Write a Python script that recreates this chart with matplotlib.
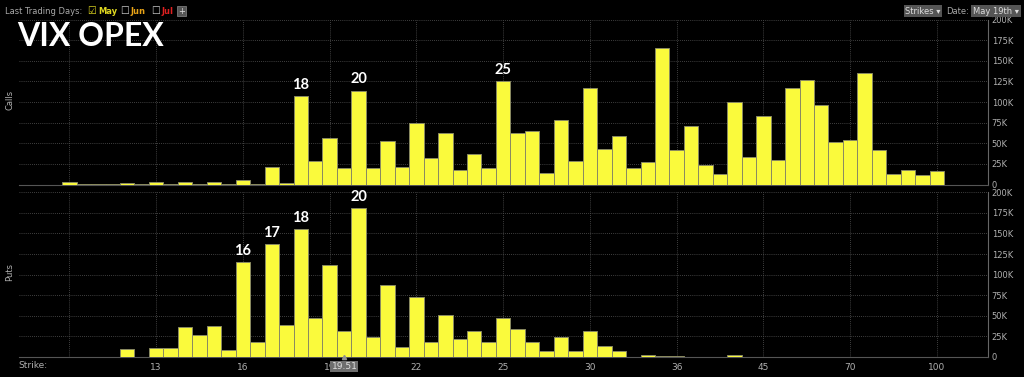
import numpy as np
import matplotlib
matplotlib.use("Agg")
import matplotlib.pyplot as plt

# open interest per strike slot (thousands), left to right
calls = [0, 0, 0, 3.4, 0.4, 0.4, 0.4, 1.8, 0.4, 3.4, 0.4, 2.6, 1.0, 2.6, 0.4, 5.0,
         0.4, 21.6, 1.8, 107.8, 28, 56, 20.4, 113.9, 19.6, 53, 20.8, 74.6, 32, 62,
         17.6, 37.4, 19.6, 126, 62.9, 64.5, 14, 78.3, 28, 117, 42.7, 58.5, 19.6, 27.7,
         165.6, 41.9, 70.6, 23.7, 12.3, 99.7, 33, 82.7, 30.1, 116.7, 126.8, 96, 51.2,
         53.6, 135, 41.5, 12.7, 18, 11.5, 16]
puts = [0, 0, 0, 0.3, 0.3, 0.3, 0, 9.7, 0, 11.3, 11.3, 36.8, 27, 37.2, 8.1, 115.7,
        18.2, 136.7, 38.8, 155, 47.3, 111.6, 32, 180.4, 23.9, 87.4, 12.5, 73.2, 18.6,
        50.6, 21.4, 32, 17.8, 46.9, 34, 18.6, 6.9, 24.7, 6.9, 32, 13.3, 6.9, 0.3, 2.4,
        1.2, 1.2, 0, 0, 0.3, 2.8, 0, 0, 0, 0, 0, 0, 0, 0, 0, 0, 0, 0, 0, 0]

strike_ticks = [3, 9, 15, 21, 27, 33, 39, 45, 51, 57, 63]
strike_labels = ['', '13', '16', '19', '22', '25', '30', '36', '45', '70', '100']

call_marks = [19, 23, 33]
call_mark_text = ['18', '20', '25']
put_marks = [15, 17, 19, 23]
put_mark_text = ['16', '17', '18', '20']

y_ticks = [0, 25, 50, 75, 100, 125, 150, 175, 200]
y_labels = ['0', '25K', '50K', '75K', '100K', '125K', '150K', '175K', '200K']

spot = 19.51
spot_pos = 22.02

W, H = 1024, 377
yellow = '#fafa3c'
grey = '#b0b0b0'

fig = plt.figure(figsize=(W / 100, H / 100), dpi=100, facecolor='black')

def fx(px):
    return px / W

def fy(py):
    return 1 - py / H

left, right = 18.8, 987.5
ax1 = fig.add_axes([fx(left), fy(184.5), fx(right - left), (184.5 - 19.7) / H])
ax2 = fig.add_axes([fx(left), fy(357), fx(right - left), (357 - 192.3) / H])

for ax, vals, marks, texts in [(ax1, calls, call_marks, call_mark_text),
                               (ax2, puts, put_marks, put_mark_text)]:
    ax.set_facecolor('black')
    x = np.arange(len(vals))
    ax.bar(x, vals, width=1.0, color=yellow, edgecolor='#8a8a62', linewidth=0.7, zorder=3)
    ax.set_xlim(-0.5, 66.5)
    ax.set_ylim(0, 200)
    ax.set_xticks(strike_ticks)
    ax.set_yticks(y_ticks)
    ax.set_yticklabels(y_labels)
    ax.yaxis.tick_right()
    ax.tick_params(axis='y', length=0, pad=3, labelsize=6, labelcolor=grey)
    ax.tick_params(axis='x', length=0, pad=4, labelsize=6.5, labelcolor=grey)
    ax.grid(True, color='#555555', linestyle=(0, (1, 1.5)), linewidth=0.6, zorder=0)
    for s in ['left', 'top']:
        ax.spines[s].set_visible(False)
    ax.spines['right'].set_color('#666666')
    ax.spines['bottom'].set_color('#555555')
    for m, t in zip(marks, texts):
        ax.annotate(t, (m, vals[m]), xytext=(0, 3), textcoords='offset points',
                    ha='center', va='bottom', color='white', fontsize=10.5,
                    fontweight='bold', family='Lato', zorder=5)

ax1.set_xticklabels([])
ax2.set_xticklabels(strike_labels)

# spot price marker (sits over the "19" label, as in the source screen)
ax2.plot([spot_pos], [0], marker='^', color='#909090', markersize=3, clip_on=False, zorder=6)
ax2.annotate(f'{spot:.2f}', (spot_pos, 0), xytext=(0, -7), textcoords='offset points',
             ha='center', va='center', color='#e0e0e0', fontsize=6.5,
             bbox=dict(facecolor='#6e6e6e', edgecolor='none', pad=0.8), zorder=7,
             annotation_clip=False)

fig.text(fx(10), fy(100), 'Calls', rotation=90, ha='center', va='center', color=grey, fontsize=6)
fig.text(fx(10), fy(272), 'Puts', rotation=90, ha='center', va='center', color=grey, fontsize=6)
fig.text(fx(18), fy(366), 'Strike:', ha='left', va='center', color=grey, fontsize=6.5)

fig.text(fx(17), fy(37), 'VIX OPEX', ha='left', va='center', color='white',
         fontsize=23, fontweight='bold', family='Lato')

# header controls
fig.text(fx(5), fy(11), 'Last Trading Days:', ha='left', va='center', color='#a8a8a8', fontsize=6)
fig.text(fx(87), fy(11), '\u2611', ha='left', va='center', color='#e0d820', fontsize=7)
fig.text(fx(98), fy(11), 'May', ha='left', va='center', color='#e0d820', fontsize=6, fontweight='bold')
fig.text(fx(120), fy(11), '\u2610', ha='left', va='center', color='#d0d0d0', fontsize=7)
fig.text(fx(130), fy(11), 'Jun', ha='left', va='center', color='#e8a317', fontsize=6, fontweight='bold')
fig.text(fx(151), fy(11), '\u2610', ha='left', va='center', color='#d0d0d0', fontsize=7)
fig.text(fx(161), fy(11), 'Jul', ha='left', va='center', color='#e02020', fontsize=6, fontweight='bold')
fig.text(fx(181.5), fy(11), '+', ha='center', va='center', color='#dddddd', fontsize=6,
         bbox=dict(facecolor='#555555', edgecolor='#888888', linewidth=0.5, pad=0.6))

fig.text(fx(923), fy(11), 'Strikes \u25be', ha='center', va='center', color='#dddddd', fontsize=6,
         bbox=dict(facecolor='#555555', edgecolor='none', pad=1.2))
fig.text(fx(946), fy(11), 'Date:', ha='left', va='center', color='#a8a8a8', fontsize=6)
fig.text(fx(996), fy(11), 'May 19th \u25be', ha='center', va='center', color='#dddddd', fontsize=6,
         bbox=dict(facecolor='#555555', edgecolor='none', pad=1.2))

fig.savefig('out.png', dpi=100, facecolor='black')
